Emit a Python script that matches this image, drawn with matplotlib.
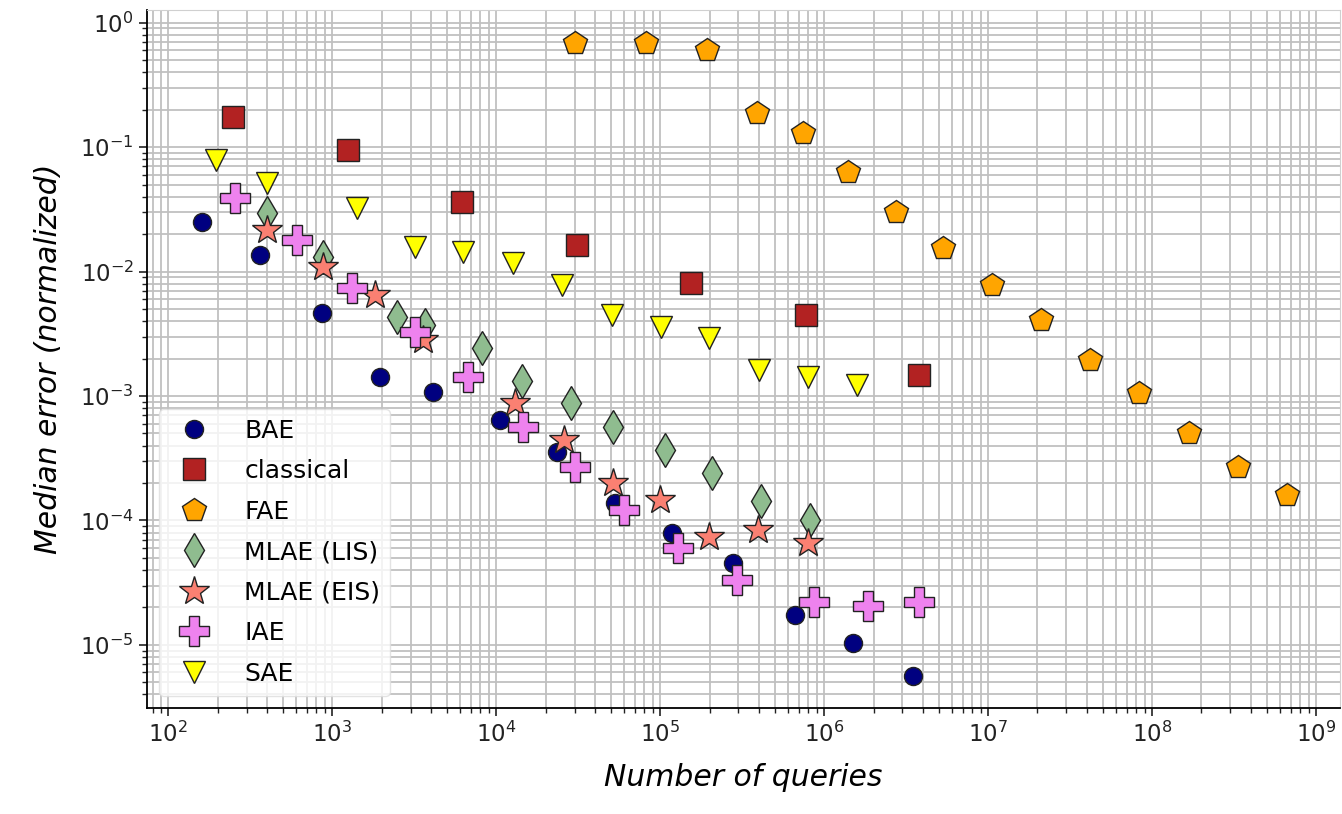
import matplotlib
matplotlib.use("Agg")
import matplotlib.pyplot as plt
from matplotlib.ticker import NullFormatter, LogLocator

# values (x = number of queries, y = median normalized error)
bae_x = [161, 364, 869, 1963, 4130, 10570, 23540, 53200, 118400, 278800, 665000, 1.50e6, 3.49e6]
bae_y = [0.0251, 0.01365, 0.00467, 0.001426, 0.00108, 6.44e-4, 3.56e-4, 1.38e-4, 7.94e-5,
         4.56e-5, 1.74e-5, 1.04e-5, 5.63e-6]

classical_x = [249, 1253, 6210, 31200, 154600, 776000, 3.80e6]
classical_y = [0.1755, 0.0953, 0.0364, 0.0164, 0.00813, 0.0045, 0.00148]

fae_x = [30300, 82200, 193600, 390000, 744000, 1.40e6, 2.75e6, 5.32e6, 1.06e7, 2.10e7,
         4.19e7, 8.33e7, 1.68e8, 3.34e8, 6.65e8]
fae_y = [0.690, 0.690, 0.607, 0.189, 0.1305, 0.0634, 0.0303, 0.0155, 0.00783, 0.0041,
         0.00195, 0.00106, 5.06e-4, 2.70e-4, 1.61e-4]

lis_x = [402, 881, 2490, 3690, 8220, 14420, 28630, 51640, 107200, 207400, 412800, 821700]
lis_y = [0.0297, 0.01315, 0.00433, 0.00373, 0.00244, 0.00132, 8.81e-4, 5.65e-4, 3.70e-4,
         2.42e-4, 1.44e-4, 1.01e-4]

eis_x = [402, 881, 1829, 3590, 13060, 26010, 51640, 100000, 199000, 396000, 798000]
eis_y = [0.0217, 0.01093, 0.00651, 0.00283, 8.81e-4, 4.45e-4, 2.01e-4, 1.46e-4, 7.38e-5,
         8.40e-5, 6.60e-5]

iae_x = [256, 612, 1324, 3207, 6748, 14620, 30340, 60300, 128700, 295000, 868000, 1.85e6, 3.80e6]
iae_y = [0.0392, 0.0180, 0.00741, 0.00328, 0.00143, 5.65e-4, 2.70e-4, 1.22e-4, 6.02e-5,
         3.33e-5, 2.22e-5, 2.06e-5, 2.22e-5]

sae_x = [196, 402, 1419, 3207, 6295, 12700, 25240, 50900, 101300, 199000, 401500, 798000, 1.59e6]
sae_y = [0.0792, 0.0518, 0.0326, 0.0158, 0.0144, 0.01177, 0.00783, 0.0045, 0.0036, 0.00294,
         0.00162, 0.00143, 0.00123]

x_major = [1e2, 1e3, 1e4, 1e5, 1e6, 1e7, 1e8, 1e9]
y_major = [1e-5, 1e-4, 1e-3, 1e-2, 1e-1, 1e0]

# (label, x, y, marker, color, markersize in pt)
series = [
    ("BAE", bae_x, bae_y, "o", "navy", 13),
    ("classical", classical_x, classical_y, "s", "firebrick", 16),
    ("FAE", fae_x, fae_y, "p", "orange", 18),
    ("MLAE (LIS)", lis_x, lis_y, "d", "darkseagreen", 17),
    ("MLAE (EIS)", eis_x, eis_y, "*", "salmon", 22),
    ("IAE", iae_x, iae_y, "P", "violet", 21),
    ("SAE", sae_x, sae_y, "v", "yellow", 16),
]

fig = plt.figure(figsize=(13.42, 8.14), dpi=100)
ax = fig.add_axes([0.1095, 0.130, 0.889, 0.858])

for label, x, y, mk, col, ms in series:
    ax.plot(x, y, linestyle="none", marker=mk, color=col, markersize=ms,
            markeredgecolor="#222222", markeredgewidth=1.0, label=label)

ax.set_xscale("log")
ax.set_yscale("log")
ax.set_xticks(x_major)
ax.set_yticks(y_major)
ax.xaxis.set_minor_locator(LogLocator(base=10, subs=range(2, 10), numticks=20))
ax.yaxis.set_minor_locator(LogLocator(base=10, subs=range(2, 10), numticks=20))
ax.xaxis.set_minor_formatter(NullFormatter())
ax.yaxis.set_minor_formatter(NullFormatter())
ax.set_xlim(74, 1.4e9)
ax.set_ylim(3.1e-6, 1.27)
ax.grid(True, which="both", color="#c0c0c0", linewidth=1.3)
ax.set_axisbelow(True)

ax.tick_params(axis="both", which="major", labelsize=16.5, length=6, width=1.2, colors="#222222")
ax.tick_params(axis="both", which="minor", length=3.5, width=1.0, colors="#222222")
for s in ["top", "right"]:
    ax.spines[s].set_color("#d0d0d0")
for s in ["left", "bottom"]:
    ax.spines[s].set_linewidth(1.3)

ax.set_xlabel("Number of queries", fontsize=21.5, style="italic", labelpad=12)
ax.set_ylabel("Median error (normalized)", fontsize=21.5, style="italic", labelpad=12)

ax.legend(loc="lower left", bbox_to_anchor=(0.0, 0.0), fontsize=18,
          labelspacing=0.66, borderpad=0.4, handletextpad=1.0,
          framealpha=0.8, edgecolor="#dddddd")

fig.savefig("out.png", dpi=100)
